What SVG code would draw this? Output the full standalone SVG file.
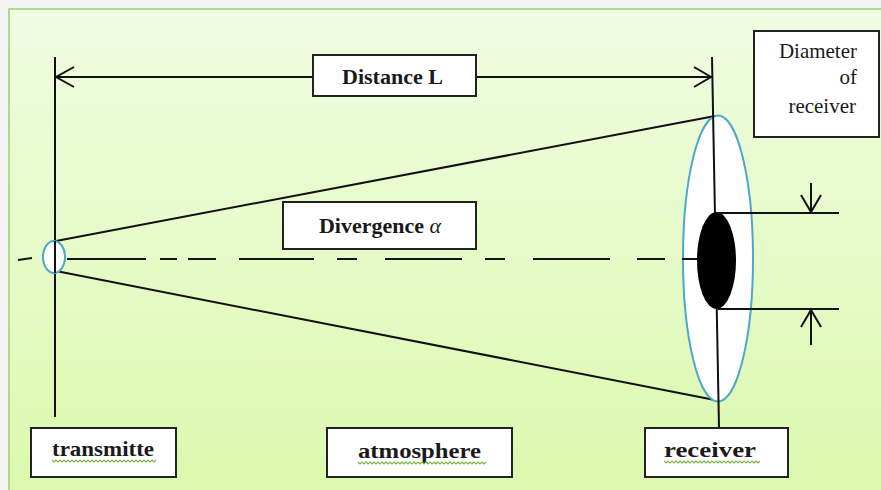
<svg xmlns="http://www.w3.org/2000/svg" width="881" height="490" viewBox="0 0 881 490">
<defs>
<linearGradient id="bg" x1="0" y1="0" x2="0" y2="1">
<stop offset="0" stop-color="#f0fce2"/>
<stop offset="1" stop-color="#dbf9ad"/>
</linearGradient>
<style>
.ln{stroke:#111;stroke-width:2;fill:none}
.box{fill:#fff;stroke:#222;stroke-width:2}
.lbl{font-family:"Liberation Serif","Times New Roman",serif;font-weight:bold;font-size:22px;fill:#1a1a1a}
.reg{font-family:"Liberation Serif","Times New Roman",serif;font-size:21px;fill:#1a1a1a}
.sq{stroke:#7cb342;stroke-width:1.2;fill:none}
.lens{fill:#fff;stroke:#4aa8cc;stroke-width:2}
</style>
</defs>
<rect x="0" y="0" width="881" height="490" fill="#f4f4f4"/>
<rect x="9" y="9" width="880" height="490" fill="url(#bg)" stroke="#b2d88a" stroke-width="2"/>

<g id="connectors">
<line class="ln" x1="55" y1="57" x2="55" y2="417"/>
<line class="ln" x1="55" y1="77" x2="313" y2="77"/>
<line class="ln" x1="476" y1="77" x2="712" y2="77"/>
<polyline class="ln" points="74,67 56,77 74,87"/>
<polyline class="ln" points="694,67 711,77 694,87"/>
<line class="ln" x1="56" y1="241" x2="715" y2="116"/>
<line class="ln" x1="56" y1="271" x2="720" y2="401"/>
<g class="ln">
<line x1="18" y1="260" x2="32" y2="258"/>
<line x1="67" y1="259" x2="146" y2="259"/>
<line x1="160" y1="259" x2="177" y2="259"/>
<line x1="188" y1="259" x2="216" y2="259"/>
<line x1="239" y1="259" x2="314" y2="259"/>
<line x1="337" y1="259" x2="357" y2="259"/>
<line x1="385" y1="259" x2="462" y2="259"/>
<line x1="485" y1="259" x2="505" y2="259"/>
<line x1="533" y1="259" x2="610" y2="259"/>
<line x1="637" y1="259" x2="665" y2="259"/>
</g>
</g>

<g id="transmitter-lens">
<ellipse class="lens" cx="54" cy="257" rx="11" ry="16"/>
<line class="ln" x1="55" y1="241" x2="55" y2="273"/>
</g>

<g id="receiver-lens">
<ellipse class="lens" cx="718" cy="258.5" rx="35" ry="143"/>
<line class="ln" x1="712" y1="57" x2="719" y2="428"/>
<line class="ln" x1="682" y1="259" x2="697" y2="259"/>
<ellipse cx="716.5" cy="260.5" rx="19.5" ry="48.5" fill="#000"/>
</g>

<g id="diameter-dims">
<line class="ln" x1="716" y1="213" x2="839" y2="213"/>
<line class="ln" x1="718" y1="309" x2="839" y2="309"/>
<line class="ln" x1="811" y1="183" x2="811" y2="212"/>
<polyline class="ln" points="801,195 811,212 821,195"/>
<line class="ln" x1="811" y1="310" x2="811" y2="345"/>
<polyline class="ln" points="801,327 811,310 821,327"/>
</g>

<g id="distance-label">
<rect class="box" x="313" y="55" width="163" height="41"/>
<text class="lbl" x="342" y="84" textLength="101" lengthAdjust="spacingAndGlyphs">Distance L</text>
</g>

<g id="divergence-label">
<rect class="box" x="283" y="202" width="193" height="47"/>
<text class="lbl" x="319" y="233" textLength="122" lengthAdjust="spacingAndGlyphs">Divergence <tspan font-style="italic" font-weight="normal">α</tspan></text>
</g>

<g id="diameter-label">
<rect class="box" x="754" y="31" width="125" height="106"/>
<text class="reg" x="857" y="58" text-anchor="end">Diameter</text>
<text class="reg" x="857" y="84" text-anchor="end">of</text>
<text class="reg" x="856" y="113" text-anchor="end">receiver</text>
</g>

<g id="transmitter-label">
<rect class="box" x="31" y="428" width="145" height="49"/>
<text class="lbl" x="52" y="456" textLength="102" lengthAdjust="spacingAndGlyphs">transmitte</text>
<path class="sq" d="M52 460 l2 2 l2 -2 l2 2 l2 -2 l2 2 l2 -2 l2 2 l2 -2 l2 2 l2 -2 l2 2 l2 -2 l2 2 l2 -2 l2 2 l2 -2 l2 2 l2 -2 l2 2 l2 -2 l2 2 l2 -2 l2 2 l2 -2 l2 2 l2 -2 l2 2 l2 -2 l2 2 l2 -2 l2 2 l2 -2 l2 2 l2 -2 l2 2 l2 -2 l2 2 l2 -2 l2 2 l2 -2 l2 2 l2 -2 l2 2 l2 -2 l2 2 l2 -2 l2 2 l2 -2 l2 2 l2 -2 l2 2 l2 -2"/>
</g>

<g id="atmosphere-label">
<rect class="box" x="327" y="428" width="185" height="49"/>
<text class="lbl" x="358" y="458" textLength="123" lengthAdjust="spacingAndGlyphs">atmosphere</text>
<path class="sq" d="M358 462 l2 2 l2 -2 l2 2 l2 -2 l2 2 l2 -2 l2 2 l2 -2 l2 2 l2 -2 l2 2 l2 -2 l2 2 l2 -2 l2 2 l2 -2 l2 2 l2 -2 l2 2 l2 -2 l2 2 l2 -2 l2 2 l2 -2 l2 2 l2 -2 l2 2 l2 -2 l2 2 l2 -2 l2 2 l2 -2 l2 2 l2 -2 l2 2 l2 -2 l2 2 l2 -2 l2 2 l2 -2 l2 2 l2 -2 l2 2 l2 -2 l2 2 l2 -2 l2 2 l2 -2 l2 2 l2 -2 l2 2 l2 -2 l2 2 l2 -2 l2 2 l2 -2 l2 2 l2 -2 l2 2 l2 -2 l2 2 l2 -2 l2 2 l2 -2"/>
</g>

<g id="receiver-label">
<rect class="box" x="645" y="428" width="143" height="49"/>
<text class="lbl" x="664" y="457" textLength="92" lengthAdjust="spacingAndGlyphs">receiver</text>
<path class="sq" d="M664 461 l2 2 l2 -2 l2 2 l2 -2 l2 2 l2 -2 l2 2 l2 -2 l2 2 l2 -2 l2 2 l2 -2 l2 2 l2 -2 l2 2 l2 -2 l2 2 l2 -2 l2 2 l2 -2 l2 2 l2 -2 l2 2 l2 -2 l2 2 l2 -2 l2 2 l2 -2 l2 2 l2 -2 l2 2 l2 -2 l2 2 l2 -2 l2 2 l2 -2 l2 2 l2 -2 l2 2 l2 -2 l2 2 l2 -2 l2 2 l2 -2 l2 2 l2 -2 l2 2 l2 -2"/>
</g>
</svg>
